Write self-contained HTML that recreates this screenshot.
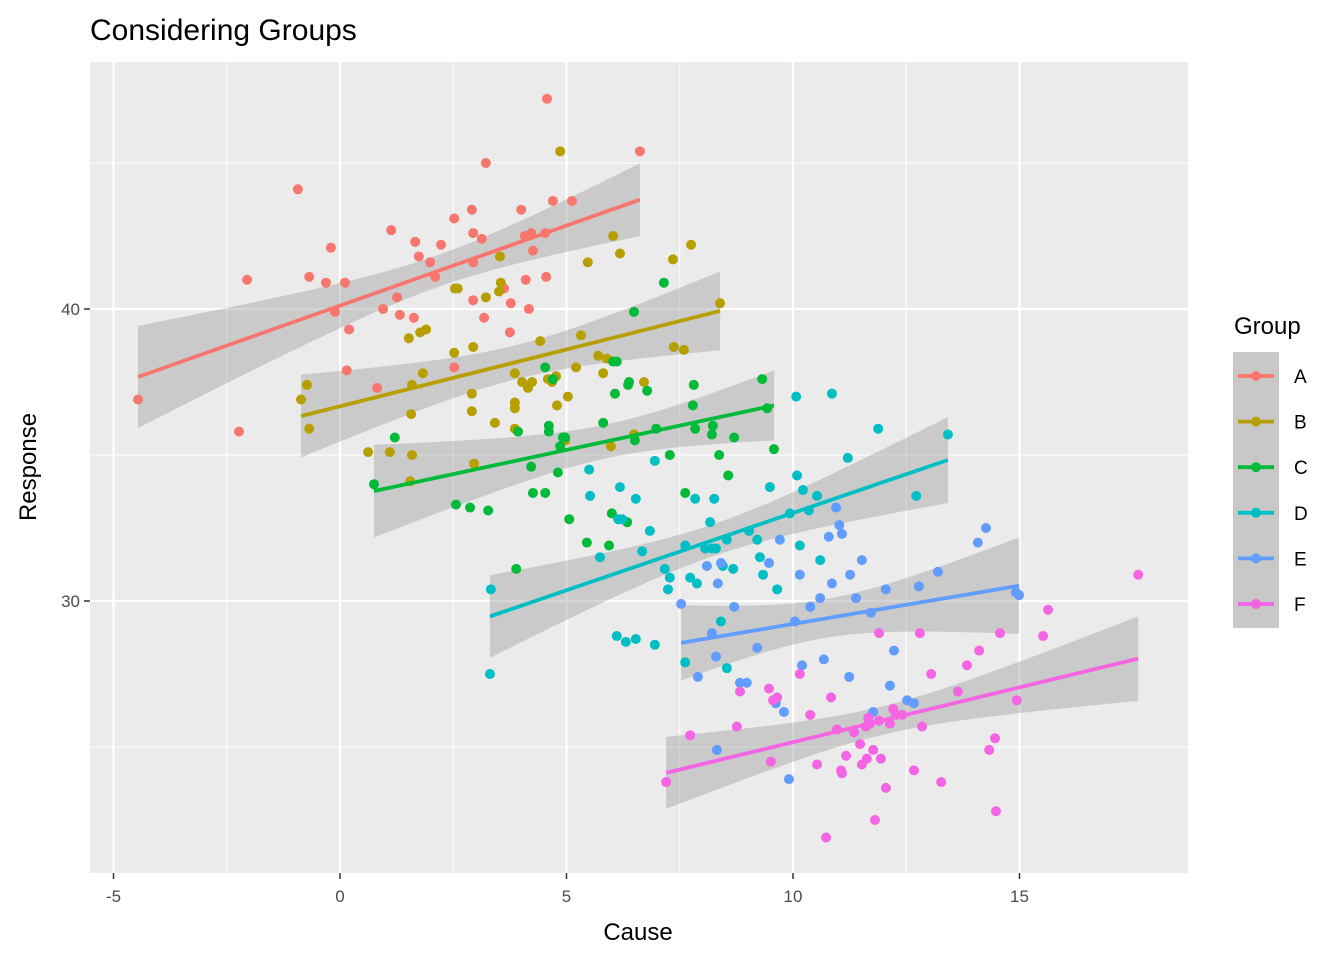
<!DOCTYPE html>
<html><head><meta charset="utf-8"><style>
body{margin:0;background:#fff}
svg{display:block;font-family:"Liberation Sans",Arial,sans-serif}
</style></head><body>
<svg id="chart" width="1344" height="960">
<rect width="1344" height="960" fill="#fff"/>
<text x="90" y="40" font-size="30" fill="#000">Considering Groups</text>
<rect x="90" y="62" width="1098" height="811" fill="#ebebeb"/>
<g id="grid"></g>
<g id="ribbons"></g>
<g id="points"></g>
<g id="lines"></g>
<g id="axes"></g>
<text x="638" y="940" font-size="24" text-anchor="middle">Cause</text>
<text transform="translate(36,467) rotate(-90)" font-size="24" text-anchor="middle">Response</text>
<g id="legend">
<text x="1234" y="334" font-size="24">Group</text>
<rect x="1233" y="352" width="46" height="276" fill="#c8c8c8"/>
</g>
</svg>
<script>
const groups=["A","B","C","D","E","F"];
const colors=["#F8766D","#B79F00","#00BA38","#00BFC4","#619CFF","#F564E3"];
const xTicks=[-5,0,5,10,15];
const yTicks=[30,40];
const xA=[-4.46,-2.05,-2.23,-0.93,-0.68,-0.31,-0.2,-0.11,0.11,0.15,0.2,0.82,0.95,1.13,1.26,1.32,1.66,1.63,1.74,1.99,2.1,2.23,2.52,2.52,2.54,2.91,2.94,2.94,2.94,3.13,3.18,3.22,3.77,4.0,4.08,4.1,4.17,4.22,4.26,4.55,4.53,4.7,4.57,5.12,6.62,3.75,3.62];
const yA=[36.9,41.0,35.8,44.1,41.1,40.9,42.1,39.9,40.9,37.9,39.3,37.3,40.0,42.7,40.4,39.8,42.3,39.7,41.8,41.6,41.1,42.2,43.1,38.0,40.7,43.4,42.6,41.6,40.3,42.4,39.7,45.0,40.2,43.4,42.5,41.0,40.0,42.6,42.0,41.1,42.6,43.7,47.2,43.7,45.4,39.2,40.7];
const xB=[-0.86,-0.73,-0.68,0.62,1.10,1.55,1.59,1.57,1.59,1.52,1.77,1.83,1.90,2.52,2.54,2.60,2.91,2.91,2.94,2.96,3.22,3.42,3.51,3.55,3.53,3.86,3.86,3.86,4.02,4.15,4.24,4.42,4.59,4.68,4.77,4.79,4.97,5.03,5.21,5.32,5.47,5.70,5.81,5.89,5.98,6.03,6.18,6.49,6.71,7.35,7.37,7.59,7.75,8.39,4.86,3.86];
const yB=[36.9,37.4,35.9,35.1,35.1,34.1,37.4,36.4,35.0,39.0,39.2,37.8,39.3,38.5,40.7,40.7,37.1,36.5,38.7,34.7,40.4,36.1,40.6,40.9,41.8,36.6,35.9,37.8,37.5,37.3,37.5,38.9,37.6,37.5,37.7,36.7,35.5,37.0,38.0,39.1,41.6,38.4,37.8,38.3,35.3,42.5,41.9,35.7,37.5,41.7,38.7,38.6,42.2,40.2,45.4,36.8];
const xC=[0.75,1.21,2.56,2.87,3.27,3.93,3.89,4.22,4.26,4.53,4.53,4.61,4.61,4.70,4.81,4.86,4.92,4.97,5.06,5.45,5.81,5.94,6.03,6.07,6.11,6.34,6.36,6.38,6.49,6.51,6.78,6.98,7.15,7.28,7.62,7.79,7.81,7.84,8.21,8.23,8.37,8.57,8.70,9.32,9.43,9.58,6.00];
const yC=[34.0,35.6,33.3,33.2,33.1,35.8,31.1,34.6,33.7,33.7,38.0,36.0,35.8,37.6,34.4,35.3,35.6,35.6,32.8,32.0,36.1,31.9,38.2,37.1,38.2,32.7,37.4,37.5,39.9,35.5,37.2,35.9,40.9,35.0,33.7,36.7,37.4,35.9,35.7,36.0,35.0,34.3,35.6,37.6,36.6,35.2,33.0];
const xD=[3.33,3.31,5.50,5.52,5.74,6.14,6.18,6.23,6.53,6.67,6.53,6.84,6.95,7.17,7.24,7.28,7.62,7.73,7.84,7.88,8.06,8.17,8.21,8.26,8.30,8.45,8.54,8.54,8.68,9.03,9.21,9.27,9.34,9.49,9.65,10.07,10.09,10.15,10.22,10.35,10.53,10.60,10.86,11.21,11.88,12.72,13.42,6.11,6.31,6.95,7.62,8.41,9.93];
const yD=[30.4,27.5,34.5,33.6,31.5,32.8,33.9,32.8,33.5,31.7,28.7,32.4,34.8,31.1,30.4,30.8,31.9,30.8,33.5,30.6,31.8,32.7,31.8,33.5,31.8,31.2,32.1,27.7,31.1,32.4,32.1,31.5,30.9,33.9,30.4,37.0,34.3,31.9,33.8,33.1,33.6,31.4,37.1,34.9,35.9,33.6,35.7,28.8,28.6,28.5,27.9,29.3,33.0];
const xE=[7.53,7.90,8.10,8.21,8.30,8.34,8.41,8.70,8.83,8.98,9.21,9.47,9.62,9.71,9.80,9.91,10.04,10.15,10.20,10.38,10.68,10.79,10.86,10.95,11.02,11.08,11.26,11.39,11.52,11.72,12.05,12.14,12.23,12.52,12.67,12.78,13.20,14.08,14.26,14.92,14.99,8.32,10.60,11.24,11.77];
const yE=[29.9,27.4,31.2,28.9,28.1,30.6,31.3,29.8,27.2,27.2,28.4,31.3,26.5,32.1,26.2,23.9,29.3,30.9,27.8,29.8,28.0,32.2,30.6,33.2,32.6,32.3,30.9,30.1,31.4,29.6,30.4,27.1,28.3,26.6,26.5,30.5,31.0,32.0,32.5,30.3,30.2,24.9,30.1,27.4,26.2];
const xF=[7.20,7.73,8.76,8.83,9.47,9.51,9.56,9.65,10.15,10.38,10.53,10.73,10.84,10.97,11.06,11.08,11.17,11.35,11.48,11.52,11.61,11.63,11.66,11.70,11.77,11.81,11.90,11.90,11.94,12.05,12.14,12.21,12.41,12.67,12.80,12.85,13.05,13.27,13.64,13.84,14.11,14.33,14.46,14.48,14.57,14.94,15.52,15.63,17.62,12.27];
const yF=[23.8,25.4,25.7,26.9,27.0,24.5,26.6,26.7,27.5,26.1,24.4,21.9,26.7,25.6,24.2,24.1,24.7,25.5,25.1,24.4,25.7,24.6,26.0,25.8,24.9,22.5,28.9,25.9,24.6,23.6,25.8,26.3,26.1,24.2,28.9,25.7,27.5,23.8,26.9,27.8,28.3,24.9,25.3,22.8,28.9,26.6,28.8,29.7,30.9,26.1];
const xs=[xA,xB,xC,xD,xE,xF], ys=[yA,yB,yC,yD,yE,yF];

const NS="http://www.w3.org/2000/svg";
const sx=v=>340+45.3*v, sy=v=>309-(v-40)*29.2;
function mk(tag,attrs,parent){const e=document.createElementNS(NS,tag);for(const k in attrs)e.setAttribute(k,attrs[k]);parent.appendChild(e);return e;}
const grid=document.getElementById('grid');
[-2.5,2.5,7.5,12.5].forEach(v=>{const l=mk('line',{x1:sx(v),x2:sx(v),y1:62,y2:873,stroke:'#fff','stroke-width':1},grid);

});
[25,35,45].forEach(v=>{const l=mk('line',{x1:90,x2:1188,y1:sy(v),y2:sy(v),stroke:'#fff','stroke-width':1},grid);

});
const axes=document.getElementById('axes');
xTicks.forEach(v=>{const l=mk('line',{x1:sx(v),x2:sx(v),y1:62,y2:873,stroke:'#fff','stroke-width':2.2},grid);


mk('line',{x1:sx(v),x2:sx(v),y1:873,y2:879,stroke:'#333','stroke-width':1.5},axes);
const t=mk('text',{x:sx(v),y:902,'font-size':17,fill:'#4d4d4d','text-anchor':'middle'},axes);t.textContent=v;

});
yTicks.forEach(v=>{const l=mk('line',{x1:90,x2:1188,y1:sy(v),y2:sy(v),stroke:'#fff','stroke-width':2.2},grid);


mk('line',{x1:84,x2:90,y1:sy(v),y2:sy(v),stroke:'#333','stroke-width':1.5},axes);
const t=mk('text',{x:80,y:sy(v)+6,'font-size':17,fill:'#4d4d4d','text-anchor':'end'},axes);t.textContent=v;

});

const rib=document.getElementById('ribbons'),pts=document.getElementById('points'),lns=document.getElementById('lines');
groups.forEach((g,i)=>{
  const X=xs[i],Y=ys[i],n=X.length;
  const mx=X.reduce((a,b)=>a+b)/n,my=Y.reduce((a,b)=>a+b)/n;
  let sxx=0,sxy=0;X.forEach((x,j)=>{sxx+=(x-mx)**2;sxy+=(x-mx)*(Y[j]-my);});
  const b=sxy/sxx,a=my-b*mx;
  let sse=0;X.forEach((x,j)=>{sse+=(Y[j]-a-b*x)**2;});
  const s=Math.sqrt(sse/(n-2)),t=2.01;
  const x0=Math.min(...X),x1=Math.max(...X);
  const up=[],lo=[];
  for(let k=0;k<=40;k++){const x=x0+(x1-x0)*k/40,f=a+b*x,se=s*Math.sqrt(1/n+(x-mx)**2/sxx);
    up.push(sx(x)+','+sy(f+t*se));lo.unshift(sx(x)+','+sy(f-t*se));}
  const p=mk('polygon',{points:up.concat(lo).join(' '),fill:'#999999','fill-opacity':0.4},rib);
  
  
  X.forEach((x,j)=>{const c=mk('circle',{cx:sx(x),cy:sy(Y[j]),r:5,fill:colors[i]},pts);
    
    });
  const l=mk('line',{x1:sx(x0),y1:sy(a+b*x0),x2:sx(x1),y2:sy(a+b*x1),stroke:colors[i],'stroke-width':3.8},lns);
  
  
  const leg=document.getElementById('legend');
  const ly=376+i*45.6;
  const ll=mk('line',{x1:1238,x2:1274,y1:ly,y2:ly,stroke:colors[i],'stroke-width':3.8},leg);
  
  
  const lc=mk('circle',{cx:1256,cy:ly,r:5,fill:colors[i]},leg);
  
  
  const lt=mk('text',{x:1294,y:ly+7,'font-size':19},leg);lt.textContent=g;
  
  
});
</script>
</body></html>
